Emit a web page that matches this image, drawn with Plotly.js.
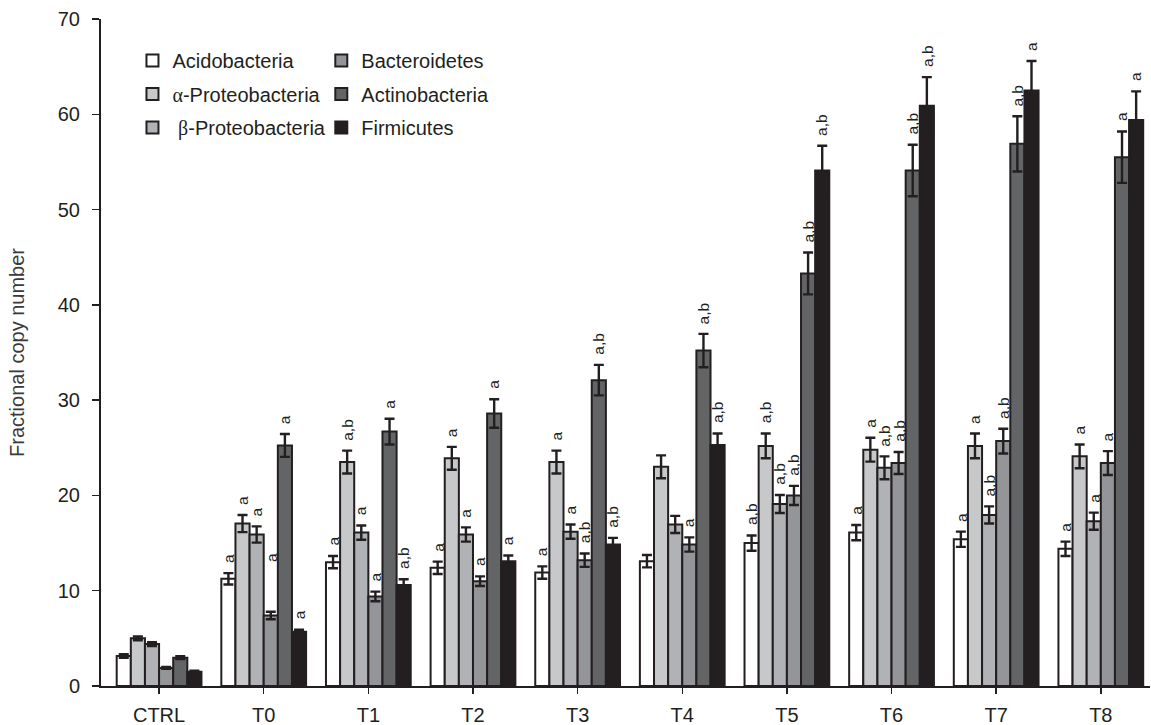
<!DOCTYPE html>
<html>
<head>
<meta charset="utf-8">
<script src="https://cdn.plot.ly/plotly-3.0.1.min.js"></script>
<style>
  html, body { margin: 0; padding: 0; background: #ffffff; }
  #chart { width: 1151px; height: 725px; }
</style>
</head>
<body>
<div id="chart"></div>
<script>
// Sampling points
const categories = ['CTRL', 'T0', 'T1', 'T2', 'T3', 'T4', 'T5', 'T6', 'T7', 'T8'];

// Mean fractional copy numbers and their standard errors per phylum
const acidobacteria      = [3.15, 11.25, 13.0, 12.4, 11.9, 13.1, 15.0, 16.1, 15.4, 14.4];
const acidobacteriaErr   = [0.2, 0.6, 0.65, 0.65, 0.65, 0.65, 0.8, 0.8, 0.8, 0.75];
const alphaProteo        = [5.0, 17.05, 23.5, 23.9, 23.5, 23.0, 25.2, 24.8, 25.2, 24.1];
const alphaProteoErr     = [0.2, 0.9, 1.2, 1.2, 1.2, 1.2, 1.3, 1.25, 1.3, 1.25];
const betaProteo         = [4.4, 15.9, 16.1, 15.9, 16.2, 16.95, 19.1, 22.9, 17.95, 17.3];
const betaProteoErr      = [0.2, 0.85, 0.75, 0.75, 0.75, 0.9, 0.95, 1.2, 0.9, 0.9];
const bacteroidetes      = [1.9, 7.4, 9.4, 11.0, 13.2, 14.85, 20.0, 23.4, 25.7, 23.4];
const bacteroidetesErr   = [0.1, 0.4, 0.5, 0.5, 0.7, 0.75, 1.0, 1.15, 1.3, 1.25];
const actinobacteria     = [2.97, 25.25, 26.7, 28.6, 32.1, 35.2, 43.3, 54.1, 56.9, 55.5];
const actinobacteriaErr  = [0.15, 1.2, 1.35, 1.5, 1.6, 1.75, 2.2, 2.7, 2.9, 2.7];
const firmicutes         = [1.5, 5.7, 10.6, 13.1, 14.85, 25.3, 54.1, 60.9, 62.5, 59.4];
const firmicutesErr      = [0.1, 0.2, 0.6, 0.6, 0.7, 1.2, 2.6, 3.0, 3.1, 3.0];

// Significance letters shown above each bar
const acidobacteriaSig  = ['', 'a', 'a', 'a', 'a', '', 'a,b', 'a', 'a', 'a'];
const alphaProteoSig    = ['', 'a', 'a,b', 'a', 'a', '', 'a,b', 'a', 'a', 'a'];
const betaProteoSig     = ['', 'a', 'a', 'a', 'a', '', 'a,b', 'a,b', 'a,b', 'a'];
const bacteroidetesSig  = ['', 'a', 'a', 'a', 'a,b', 'a', 'a,b', 'a,b', 'a,b', 'a'];
const actinobacteriaSig = ['', 'a', 'a', 'a', 'a,b', 'a,b', 'a,b', 'a,b', 'a,b', 'a'];
const firmicutesSig     = ['', 'a', 'a,b', 'a', 'a,b', 'a,b', 'a,b', 'a,b', 'a', 'a'];

const greek = s => '<span style="font-family:\'Liberation Serif\', serif">' + s + '</span>';

const series = [
  { name: 'Acidobacteria', y: acidobacteria, err: acidobacteriaErr, sig: acidobacteriaSig, color: '#ffffff', legend: 'legend' },
  { name: greek('α') + '-Proteobacteria', y: alphaProteo, err: alphaProteoErr, sig: alphaProteoSig, color: '#c7c8ca', legend: 'legend' },
  { name: ' ' + greek('β') + '-Proteobacteria', y: betaProteo, err: betaProteoErr, sig: betaProteoSig, color: '#b1b2b5', legend: 'legend' },
  { name: 'Bacteroidetes', y: bacteroidetes, err: bacteroidetesErr, sig: bacteroidetesSig, color: '#939598', legend: 'legend2' },
  { name: 'Actinobacteria', y: actinobacteria, err: actinobacteriaErr, sig: actinobacteriaSig, color: '#636466', legend: 'legend2' },
  { name: 'Firmicutes', y: firmicutes, err: firmicutesErr, sig: firmicutesSig, color: '#231f20', legend: 'legend2' }
];

const FONT = 'Liberation Sans, Arial, Helvetica, sans-serif';
const INK = '#231f20';
const BARGAP = 0.19;
const xIdx = categories.map((_, i) => i);

const traces = series.map((s, k) => ({
  type: 'bar',
  name: s.name,
  x: xIdx,
  y: s.y,
  legend: s.legend,
  legendgroup: 'g' + k,
  marker: { color: s.color, line: { color: INK, width: 2 } },
  error_y: { type: 'data', array: s.err, visible: true, color: INK, thickness: 2.4, width: 5 },
  hoverinfo: 'x+y'
}));

// Letter annotations: centred over each bar of the group, just above the error bar
const nSeries = series.length;
const barW = (1 - BARGAP) / nSeries;
const extraLift = { '1|3': 40 };
const annotations = [];
series.forEach((s, k) => {
  s.sig.forEach((txt, i) => {
    if (!txt) return;
    annotations.push({
      x: i - (1 - BARGAP) / 2 + (k + 0.5) * barW,
      y: s.y[i] + s.err[i],
      xref: 'x', yref: 'y',
      text: txt,
      textangle: -90,
      showarrow: false,
      xanchor: 'center', yanchor: 'bottom',
      yshift: 9 + (extraLift[i + '|' + k] || 0),
      borderpad: 0,
      font: { family: FONT, size: 15.5, color: INK }
    });
  });
});

const legendBase = {
  yanchor: 'top', xanchor: 'left', y: 0.967,
  orientation: 'v',
  bgcolor: 'rgba(0,0,0,0)',
  traceorder: 'grouped',
  tracegroupgap: 4.5,
  itemwidth: 30,
  font: { family: FONT, size: 20, color: INK }
};

const layout = {
  width: 1151, height: 725,
  margin: { l: 101, r: 1, t: 19, b: 39, pad: 0 },
  paper_bgcolor: '#ffffff', plot_bgcolor: '#ffffff',
  barmode: 'group', bargap: BARGAP, bargroupgap: 0,
  font: { family: FONT, color: INK },
  showlegend: true,
  legend: Object.assign({}, legendBase, { x: 0.030 }),
  legend2: Object.assign({}, legendBase, { x: 0.21 }),
  xaxis: {
    range: [-0.555, 9.47],
    tickmode: 'array', tickvals: xIdx, ticktext: categories,
    showgrid: false, zeroline: false,
    showline: true, linecolor: INK, linewidth: 2,
    ticks: 'outside', ticklen: 6, tickwidth: 1.5, tickcolor: INK,
    ticklabelstandoff: 4,
    tickfont: { family: FONT, size: 20, color: INK }
  },
  yaxis: {
    range: [0, 70],
    tickmode: 'linear', tick0: 0, dtick: 10,
    showgrid: false, zeroline: false,
    showline: true, linecolor: INK, linewidth: 2,
    ticks: 'outside', ticklen: 7, tickwidth: 1.5, tickcolor: INK,
    ticklabelstandoff: 8,
    tickfont: { family: FONT, size: 20, color: INK },
    title: { text: 'Fractional copy number', standoff: 28, font: { family: FONT, size: 20, color: '#3a3a3a' } }
  },
  annotations: annotations
};

Plotly.newPlot('chart', traces, layout, { displayModeBar: false, staticPlot: true });
</script>
</body>
</html>
